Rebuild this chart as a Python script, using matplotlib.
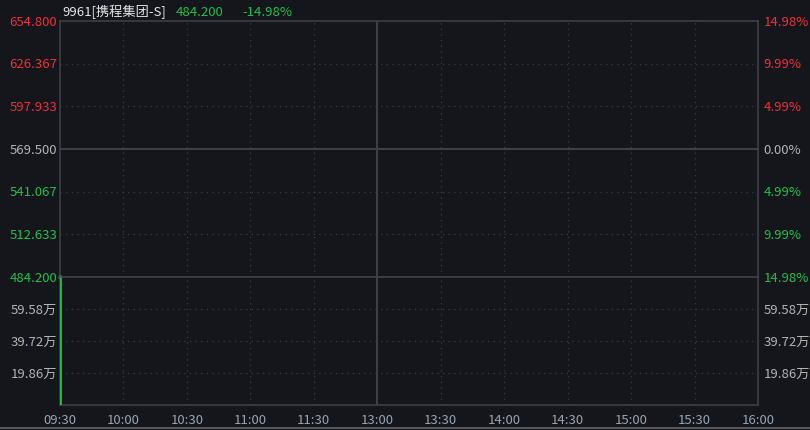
import matplotlib
matplotlib.use("Agg")
import matplotlib.pyplot as plt
from matplotlib.lines import Line2D

plt.rcParams['font.family'] = ['Noto Sans CJK SC', 'DejaVu Sans']

# data
stock_name = "9961[携程集团-S]"
last_price = 484.200
change_pct = "-14.98%"
prev_close = 569.500
price_ticks = [654.800, 626.367, 597.933, 569.500, 541.067, 512.633, 484.200]
pct_labels = ["14.98%", "9.99%", "4.99%", "0.00%", "4.99%", "9.99%", "14.98%"]
vol_ticks = [198600, 397200, 595800]
vol_labels = ["19.86万", "39.72万", "59.58万"]
vol_max = 794400
time_labels = ["09:30", "10:00", "10:30", "11:00", "11:30", "13:00",
               "13:30", "14:00", "14:30", "15:00", "15:30", "16:00"]
minutes = [0]          # minutes since open
prices = [484.200]
volumes = [794400]

BG = "#14161b"
GRID = "#3a3d44"
SOLID = "#3e3f44"
RED = "#f0303a"
GREEN = "#1fbf4a"
GRAY = "#b4b4b4"
AXTXT = "#9ca3ad"

W, H = 810, 431
fig = plt.figure(figsize=(W / 100, H / 100), dpi=100, facecolor=BG)

def box(x0, y0, x1, y1):
    return [x0 / W, 1 - y1 / H, (x1 - x0) / W, (y1 - y0) / H]

ax = fig.add_axes(box(60, 22, 758, 278))
axv = fig.add_axes(box(60, 278, 758, 406))
xticks = [30 * i for i in range(len(time_labels))]

for a in (ax, axv):
    a.set_facecolor(BG)
    a.set_xlim(0, 330)
    for s in a.spines.values():
        s.set_color(SOLID)
        s.set_linewidth(1.2)
    a.tick_params(length=0, labelleft=False, labelbottom=False)
    a.set_xticks([])
    a.set_yticks([])
    for x in xticks[1:-1]:
        if x == 150:
            a.axvline(x, color=SOLID, lw=1.5)
        else:
            a.axvline(x, color=GRID, lw=0.9, ls=(0, (1, 3.5)))

ax.set_ylim(price_ticks[-1], price_ticks[0])
axv.set_ylim(0, vol_max)

for i, p in enumerate(price_ticks):
    if p > prev_close:
        c = RED
    elif p < prev_close:
        c = GREEN
    else:
        c = GRAY
    if 0 < i < len(price_ticks) - 1:
        if p == prev_close:
            ax.axhline(p, color=SOLID, lw=1.5)
        else:
            ax.axhline(p, color=GRID, lw=0.9, ls=(0, (1, 3.5)))
    ax.text(-0.004, p, f"{p:.3f}", color=c, fontsize=9.5, ha="right",
            va="center", transform=ax.get_yaxis_transform(), clip_on=False)
    ax.text(1.008, p, pct_labels[i], color=c, fontsize=9.5, ha="left",
            va="center", transform=ax.get_yaxis_transform(), clip_on=False)

for v, lab in zip(vol_ticks, vol_labels):
    axv.axhline(v, color=GRID, lw=0.9, ls=(0, (1, 3.5)))
    axv.text(-0.004, v, lab, color=GRAY, fontsize=9.5, ha="right", va="center",
             transform=axv.get_yaxis_transform(), clip_on=False)
    axv.text(1.008, v, lab, color=GRAY, fontsize=9.5, ha="left", va="center",
             transform=axv.get_yaxis_transform(), clip_on=False)

# price and volume marks
ax.plot(minutes, prices, "s", color="white", ms=1.8, clip_on=False, zorder=5)
axv.vlines(minutes, 0, volumes, color=GREEN, lw=2, zorder=4)

for x, lab in zip(xticks, time_labels):
    axv.text(x, -0.11, lab, color=AXTXT, fontsize=9.5, ha="center", va="center",
             transform=axv.get_xaxis_transform(), clip_on=False)

# header
fig.text(62 / W, 1 - 12 / H, stock_name, color="#e6e6e6", fontsize=9.5, va="center")
fig.text(176 / W, 1 - 12 / H, f"{last_price:.3f}", color=GREEN, fontsize=9.5, va="center")
fig.text(242 / W, 1 - 12 / H, change_pct, color=GREEN, fontsize=9.5, va="center")

# bottom border
fig.add_artist(Line2D([0, 1], [1 - 429 / H] * 2, color="#55585e", lw=1.5,
                      transform=fig.transFigure))

fig.savefig("out.png", dpi=100, facecolor=BG)
